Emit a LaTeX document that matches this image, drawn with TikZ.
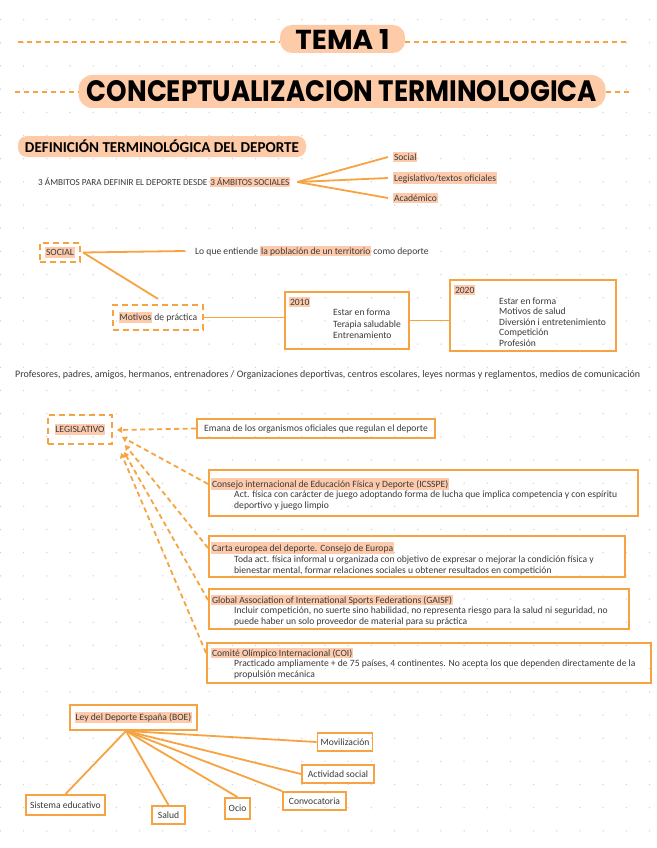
\documentclass[tikz,border=0pt]{standalone}
\usepackage{graphicx}
\usepackage{fontspec}
\setmainfont{Carlito}
\newfontfamily\titlefont{Poppins}
\usetikzlibrary{arrows.meta,calc}
\definecolor{org}{HTML}{F7A341}
\definecolor{peach}{HTML}{FDCBA8}
\definecolor{hlc}{HTML}{FDCAAC}
\definecolor{ink}{HTML}{3A3A3A}
\definecolor{dotc}{HTML}{D2D2D2}
\newcommand\hl[1]{{\setlength{\fboxsep}{0.8pt}\colorbox{hlc}{\rule[-0.3ex]{0pt}{2.0ex}#1}}}
\newcommand\bodyfont{\fontsize{9.6}{11}\selectfont}
\begin{document}
\begin{tikzpicture}[x=1pt,y=-1pt,
  conn/.style={draw=org, line width=1.8pt},
  dconn/.style={draw=org, line width=1.8pt, dash pattern=on 5pt off 3.5pt},
  tdash/.style={draw=org, line width=1.5pt, dash pattern=on 5pt off 4pt},
  sbox/.style={draw=org, line width=1.9pt, inner sep=0pt, text=ink, font=\bodyfont},
  dbox/.style={draw=org, line width=2.2pt, dash pattern=on 6pt off 4pt, inner sep=0pt, text=ink, font=\bodyfont},
  txt/.style={inner sep=0pt, text=ink, font=\bodyfont, anchor=west},
  pill/.style={fill=peach, rounded corners=12pt, inner sep=0pt, text=black},
  tip/.style={-{Triangle[length=5pt,width=6pt]}}
]
\fill[white] (0,0) rectangle (656,848);
\useasboundingbox (0,0) rectangle (656,848);
\foreach \i in {0,...,28}{\foreach \j in {0,...,35}{\fill[dotc] ({0.5+23.18*\i},{19.6+23.18*\j}) circle (0.75);}}

% titles
\node[pill, minimum width=125pt, minimum height=28pt] (t1) at (342.5,39) {\resizebox{94pt}{20pt}{\titlefont\bfseries TEMA 1}};
\coordinate (t1l) at (18,42);
\coordinate (t1r) at (630,42);
\draw[tdash] (t1l) -- (t1l -| t1.west);
\draw[tdash] (t1.east |- t1r) -- (t1r);

\node[pill, minimum width=527pt, minimum height=33pt, rounded corners=14pt] (t2) at (342,91.5) {\resizebox{510pt}{21pt}{\titlefont\bfseries CONCEPTUALIZACION TERMINOLOGICA}};
\coordinate (t2l) at (15,92);
\coordinate (t2r) at (630,92);
\draw[tdash] (t2l) -- (t2l -| t2.west);
\draw[tdash] (t2.east |- t2r) -- (t2r);

\node[pill, minimum width=288pt, minimum height=21pt, rounded corners=9pt] (def) at (162,146.5) {\resizebox{274pt}{!}{\fontsize{11}{13}\selectfont\bfseries DEFINICIÓN TERMINOLÓGICA DEL DEPORTE}};

% ambitos
\node[txt] (amb) at (38,182) {\resizebox{252pt}{!}{3 ÁMBITOS PARA DEFINIR EL DEPORTE DESDE \hl{3 ÁMBITOS SOCIALES}}};
\coordinate (br) at ([xshift=7pt]amb.east);
\node[txt] (soc) at (393,157) {\hl{Social}};
\node[txt] (leg) at (393,178) {\hl{Legislativo/textos oficiales}};
\node[txt] (aca) at (393,198) {\hl{Académico}};
\draw[conn] (br) -- ([xshift=-5pt]soc.west);
\draw[conn] (br) -- ([xshift=-5pt]leg.west);
\draw[conn] (br) -- ([xshift=-5pt]aca.west);

% social
\node[dbox, minimum width=40pt, minimum height=19pt] (social) at (60,252.5) {\hl{SOCIAL}};
\node[txt] (loque) at (195,251) {Lo que entiende \hl{la población de un territorio} como deporte};
\draw[conn] ([xshift=2pt]social.east) -- ([xshift=-10pt]loque.west);
\node[dbox, minimum width=90pt, minimum height=25pt] (motivos) at (158,317.5) {\hl{Motivos} de práctica};
\draw[conn] ([xshift=2pt]social.east) -- ([yshift=5pt]motivos.north);

\node[sbox, minimum width=124pt, minimum height=57pt] (b2010) at (347,320.5) {};
\node[txt] (y2010) at (289,302) {\hl{2010}};
\node[txt, align=left, font=\fontsize{9.6}{11.5}\selectfont] (l2010) at (333,324) {Estar en forma\\Terapia saludable\\Entrenamiento};

\node[sbox, minimum width=166pt, minimum height=71pt] (b2020) at (533,315.5) {};
\node[txt] (y2020) at (454,290) {\hl{2020}};
\node[txt, align=left, font=\fontsize{9.6}{10.5}\selectfont] (l2020) at (499,322) {Estar en forma\\Motivos de salud\\Diversión i entretenimiento\\Competición\\Profesión};

\draw[conn] (motivos.east) -- (motivos.east -| b2010.west);
\draw[conn] (b2010.east) -- (b2010.east -| b2020.west);

\node[txt] (prof) at (15,375) {\resizebox{625pt}{!}{Profesores, padres, amigos, hermanos, entrenadores / Organizaciones deportivas, centros escolares, leyes normas y reglamentos, medios de comunicación}};

% legislativo
\node[dbox, minimum width=64pt, minimum height=29pt] (legis) at (80,429.5) {\hl{LEGISLATIVO}};
\node[sbox, minimum width=238pt, minimum height=19pt] (emana) at (316,428.5) {Emana de los organismos oficiales que regulan el deporte};
\coordinate (a0) at (117,430);
\draw[dconn, tip] (emana.west) -- (a0);

\node[sbox, minimum width=429pt, minimum height=46pt] (bx1) at (423.5,493) {};
\node[txt] (h1) at (211,484) {\hl{Consejo internacional de Educación Física y Deporte (ICSSPE)}};
\node[txt, align=left] (d1) at (234,500.5) {Act. física con carácter de juego adoptando forma de lucha que implica competencia y con espíritu\\deportivo y juego limpio};

\node[sbox, minimum width=416pt, minimum height=41pt] (bx2) at (417,556.5) {};
\node[txt] (h2) at (211,548) {\hl{Carta europea del deporte. Consejo de Europa}};
\node[txt, align=left] (d2) at (234,565.5) {Toda act. física informal u organizada con objetivo de expresar o mejorar la condición física y\\bienestar mental, formar relaciones sociales u obtener resultados en competición};

\node[sbox, minimum width=420pt, minimum height=40pt] (bx3) at (419,609) {};
\node[txt] (h3) at (211,600) {\hl{Global Association of International Sports Federations (GAISF)}};
\node[txt, align=left] (d3) at (234,616.5) {Incluir competición, no suerte sino habilidad, no representa riesgo para la salud ni seguridad, no\\puede haber un solo proveedor de material para su práctica};

\node[sbox, minimum width=444pt, minimum height=40pt] (bx4) at (429,663) {};
\node[txt] (h4) at (211,653) {\hl{Comité Olímpico Internacional (COI)}};
\node[txt, align=left] (d4) at (234,669.5) {Practicado ampliamente + de 75 países, 4 continentes. No acepta los que dependen directamente de la\\propulsión mecánica};

\coordinate (a1) at (122,437);
\coordinate (a2) at (125,445);
\coordinate (a3) at (124,452);
\coordinate (a4) at (121,453);
\draw[dconn, tip] (bx1.west |- h1) -- (a1);
\draw[dconn, tip] (bx2.west |- h2) -- (a2);
\draw[dconn, tip] (bx3.west |- h3) -- (a3);
\draw[dconn, tip] (bx4.west |- h4) -- (a4);

% ley
\node[sbox, minimum width=127pt, minimum height=25pt] (ley) at (133.5,717.5) {\hl{Ley del Deporte España (BOE)}};
\coordinate (hub) at ([xshift=-7.5pt]ley.south);
\node[sbox, minimum width=55pt, minimum height=18pt] (movil) at (345,742) {Movilización};
\node[sbox, minimum width=72pt, minimum height=18pt] (activ) at (338,774) {Actividad social};
\node[sbox, minimum width=63pt, minimum height=18pt] (convo) at (314.5,801) {Convocatoria};
\node[sbox, minimum width=25pt, minimum height=21pt] (ocio) at (237.5,808.5) {Ocio};
\node[sbox, minimum width=33pt, minimum height=18pt] (salud) at (168.5,815) {Salud};
\node[sbox, minimum width=79pt, minimum height=20pt] (sist) at (65.5,805) {Sistema educativo};
\draw[conn] (hub) -- (movil.west);
\draw[conn] (hub) -- (activ.west);
\draw[conn] (hub) -- (convo.north west);
\draw[conn] (hub) -- (ocio.north);
\draw[conn] (hub) -- (salud.north);
\draw[conn] (hub) -- (sist.north);
\end{tikzpicture}
\end{document}
